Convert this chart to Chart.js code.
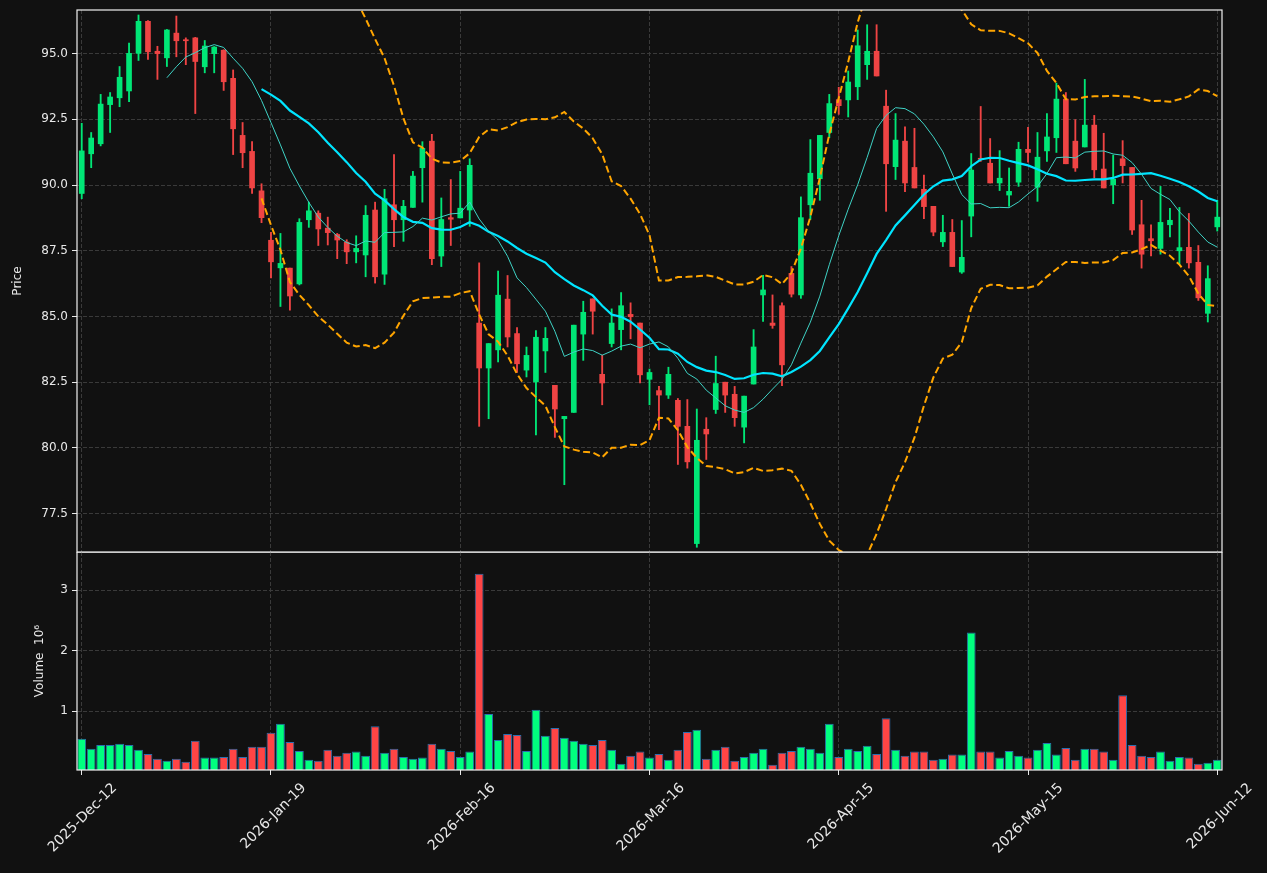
<!DOCTYPE html>
<html>
<head>
<meta charset="utf-8">
<script src="https://cdn.jsdelivr.net/npm/chart.js@4.4.1/dist/chart.umd.min.js"></script>
<style>
  html, body { margin: 0; padding: 0; background: #111111; }
  #wrap { position: relative; width: 1267px; height: 873px; }
  #price { position: absolute; left: 0; top: 0; }
  #vol { position: absolute; left: 0; top: 552px; }
</style>
</head>
<body>
<div id="wrap">
  <canvas id="price" width="1267" height="553"></canvas>
  <canvas id="vol" width="1267" height="321"></canvas>
</div>
<script>
// daily OHLC (121 sessions)
var opens = [89.68,91.19,91.57,93.06,93.32,93.58,95.01,96.23,95.09,94.84,
  95.78,95.53,95.60,94.50,95.00,95.13,94.06,91.89,91.28,89.78,
  87.90,86.85,86.84,86.24,88.68,88.93,88.36,88.12,87.83,87.46,
  87.34,89.05,86.61,89.25,88.68,89.15,90.66,91.67,87.30,88.76,
  88.75,89.05,84.75,83.04,83.73,85.66,84.35,82.96,82.51,83.69,
  82.38,81.11,81.35,84.33,85.67,82.80,83.97,84.50,85.08,84.75,
  82.61,82.18,82.01,81.81,80.82,76.36,80.71,81.46,82.50,82.04,
  80.79,82.43,85.82,84.75,85.41,86.64,85.82,89.25,90.24,92.00,
  93.25,93.24,93.74,94.58,95.09,93.00,90.70,91.67,90.67,89.84,
  89.19,87.84,88.20,86.69,88.82,91.02,90.83,90.08,89.62,90.11,
  91.36,89.92,91.30,91.80,93.27,91.67,91.45,92.28,90.61,90.01,
  91.00,90.67,88.49,87.96,87.59,88.49,87.50,87.63,87.06,85.12,
  88.41];
var highs = [92.35,92.00,93.45,93.52,94.51,95.40,96.47,96.26,95.28,95.92,
  96.43,95.60,95.62,95.50,95.27,95.15,94.38,92.38,91.65,90.05,
  88.20,88.16,86.84,88.72,89.35,89.02,88.78,88.16,87.92,88.07,
  89.22,89.35,89.84,91.16,89.42,90.52,91.65,91.93,89.51,90.21,
  90.52,91.00,87.04,83.97,86.73,86.56,84.58,83.84,84.46,84.58,
  82.38,81.20,84.67,85.58,85.67,83.53,85.29,85.91,85.52,84.75,
  83.00,82.34,83.07,81.88,81.84,81.48,81.15,83.49,82.50,82.34,
  81.97,84.50,86.57,85.82,85.52,86.90,89.55,91.73,91.89,93.45,
  93.72,94.34,95.90,96.10,96.10,93.61,92.72,92.22,92.16,90.38,
  89.19,88.85,88.69,88.65,91.20,92.99,91.77,91.31,90.65,91.63,
  92.20,92.00,92.72,93.88,93.52,92.49,94.02,92.65,91.97,91.14,
  91.69,90.67,89.42,88.49,89.95,89.11,89.15,88.92,87.70,86.93,
  89.42];
var lows = [89.48,90.66,91.49,92.00,92.98,93.17,94.74,94.78,94.02,94.51,
  94.88,94.58,92.72,94.27,94.27,93.60,91.16,90.66,89.68,88.57,
  86.47,85.38,85.24,86.20,88.39,87.70,87.72,87.20,87.01,87.04,
  86.51,86.27,86.22,87.66,87.86,89.15,89.35,86.97,86.90,87.70,
  88.75,88.43,80.82,81.11,83.27,83.84,82.87,82.70,80.49,82.87,
  80.40,78.60,81.35,83.33,84.33,81.64,83.84,83.73,84.15,82.47,
  81.64,80.69,81.88,79.37,79.23,76.22,79.56,81.31,81.35,80.82,
  80.19,82.43,84.81,84.55,82.37,85.74,85.69,88.69,89.42,91.80,
  92.69,92.59,93.25,94.02,94.15,89.00,90.21,89.75,89.89,88.72,
  88.07,87.66,86.90,86.64,88.03,90.90,90.08,89.79,89.19,89.95,
  90.87,89.38,90.90,91.24,90.81,90.52,91.45,90.28,89.89,89.29,
  90.08,88.12,86.84,87.30,87.37,88.03,86.97,86.84,85.61,84.79,
  88.25];
var closes = [91.30,91.79,93.08,93.35,94.10,95.01,96.23,95.07,95.00,95.90,
  95.49,95.49,94.70,95.29,95.25,93.93,92.14,91.23,89.89,88.76,
  87.08,87.02,85.78,88.58,89.02,88.33,88.19,87.91,87.46,87.59,
  88.85,86.51,89.48,88.68,89.19,90.34,91.40,87.20,88.69,88.70,
  89.12,90.75,83.04,83.97,85.81,84.22,83.20,83.52,84.21,84.17,
  81.48,81.20,84.67,85.16,85.20,82.47,84.75,85.41,84.99,82.78,
  82.87,82.01,82.80,80.82,79.47,80.29,80.53,82.45,82.01,81.15,
  81.97,83.84,86.01,84.66,83.16,85.85,88.76,90.45,91.89,93.10,
  93.02,93.92,95.30,95.09,94.15,90.81,91.71,90.08,89.89,89.18,
  88.21,88.20,86.90,87.25,90.57,90.98,90.08,90.26,89.76,91.36,
  91.24,91.06,91.83,93.27,90.81,90.65,92.28,90.58,89.89,90.22,
  90.74,88.29,87.37,87.88,88.58,88.66,87.62,87.04,85.71,86.44,
  88.78];
// volume in millions
var volumes = [0.54,0.375,0.44,0.44,0.46,0.44,0.36,0.29,0.21,0.18,
  0.21,0.16,0.51,0.23,0.23,0.24,0.375,0.24,0.41,0.41,
  0.64,0.79,0.49,0.34,0.195,0.18,0.36,0.26,0.31,0.33,
  0.26,0.75,0.31,0.375,0.24,0.21,0.23,0.46,0.375,0.34,
  0.24,0.33,3.27,0.95,0.52,0.62,0.605,0.34,1.02,0.59,
  0.72,0.56,0.51,0.46,0.44,0.52,0.36,0.13,0.26,0.33,
  0.23,0.29,0.195,0.36,0.655,0.69,0.21,0.36,0.41,0.18,
  0.24,0.31,0.375,0.11,0.31,0.34,0.41,0.375,0.31,0.79,
  0.24,0.375,0.34,0.425,0.29,0.88,0.36,0.26,0.33,0.33,
  0.195,0.21,0.28,0.28,2.30,0.33,0.33,0.23,0.34,0.26,
  0.23,0.36,0.47,0.28,0.39,0.195,0.375,0.375,0.33,0.195,
  1.26,0.44,0.26,0.24,0.33,0.18,0.24,0.23,0.13,0.145,
  0.195];
var tickLabels = ['2025-Dec-12','2026-Jan-19','2026-Feb-16','2026-Mar-16','2026-Apr-15','2026-May-15','2026-Jun-12'];
var tickEvery = 20;

var categories = closes.map(function(_, i){ return i; });

// indicators
function sma(arr, n) {
  return arr.map(function(_, i){
    if (i < n - 1) return null;
    var s = 0;
    for (var j = i - n + 1; j <= i; j++) s += arr[j];
    return s / n;
  });
}
function band(arr, n, k) {
  var m = sma(arr, n);
  return arr.map(function(_, i){
    if (m[i] === null) return null;
    var v = 0;
    for (var j = i - n + 1; j <= i; j++) v += (arr[j] - m[i]) * (arr[j] - m[i]);
    return m[i] + k * Math.sqrt(v / n);
  });
}
var sma10 = sma(closes, 10);
var sma20 = sma(closes, 20);
var bbUp = band(closes, 20, 2);
var bbLow = band(closes, 20, -2);

var up = closes.map(function(c, i){ return c >= opens[i]; });
var candleCol = up.map(function(u){ return u ? '#00e676' : '#ef4444'; });
var volCol = up.map(function(u){ return u ? '#00ff7f' : '#ff4545'; });

var txt = '#e8e8e8';
var gridCol = '#3a3a3a';
var font = { family: 'DejaVu Sans', size: 12 };

var frame = {
  id: 'frame',
  afterDraw: function(chart) {
    var a = chart.chartArea, c = chart.ctx;
    c.save();
    c.strokeStyle = '#f2f2f2';
    c.lineWidth = 1.2;
    c.strokeRect(a.left, a.top, a.right - a.left, a.bottom - a.top);
    c.restore();
  }
};

function xGrid(ctx) { return ctx.index % tickEvery === 0 ? gridCol : 'rgba(0,0,0,0)'; }
function fitY(s) { s.width = 77; s.paddingTop = 0; s.paddingBottom = 0; }

var ctx1 = document.getElementById('price').getContext('2d');
var priceChart = new Chart(ctx1, {
  type: 'bar',
  data: {
    labels: categories,
    datasets: [
      { type: 'line', data: sma10, borderColor: '#3fd3c6', borderWidth: 1, pointRadius: 0, order: 1 },
      { type: 'line', data: sma20, borderColor: '#00e5ff', borderWidth: 2.2, pointRadius: 0, order: 1 },
      { type: 'line', data: bbUp, borderColor: '#ffa500', borderWidth: 2, borderDash: [7, 3.5], pointRadius: 0, order: 1 },
      { type: 'line', data: bbLow, borderColor: '#ffa500', borderWidth: 2, borderDash: [7, 3.5], pointRadius: 0, order: 1 },
      { data: closes.map(function(c, i){ return [Math.min(c, opens[i]), Math.max(c, opens[i])]; }),
        backgroundColor: candleCol, barThickness: 5, minBarLength: 1, grouped: false, order: 2 },
      { data: highs.map(function(h, i){ return [lows[i], h]; }),
        backgroundColor: candleCol, barThickness: 1.2, grouped: false, order: 3 }
    ]
  },
  options: {
    responsive: false,
    animation: false,
    layout: { padding: { top: 10, right: 45, left: 0, bottom: 1 } },
    plugins: { legend: { display: false }, tooltip: { enabled: false } },
    scales: {
      x: {
        offset: true,
        afterFit: function(s){ s.height = 0; s.paddingLeft = 0; s.paddingRight = 0; },
        grid: { offset: false, color: xGrid, drawTicks: false, borderDash: [4, 2] },
        border: { display: false, dash: [4, 2] },
        ticks: { display: false, autoSkip: false }
      },
      y: {
        min: 76.04,
        max: 96.66,
        afterFit: fitY,
        ticks: { stepSize: 2.5, includeBounds: false, color: txt, font: font, padding: 4,
          callback: function(v){ return v.toFixed(1); } },
        grid: { color: gridCol, tickColor: txt, tickLength: 5, tickBorderDash: [], borderDash: [4, 2] },
        border: { display: false, dash: [4, 2] },
        title: { display: true, text: 'Price', color: txt, font: font, padding: { top: 11, bottom: 0 } }
      }
    }
  },
  plugins: [frame]
});

var ctx2 = document.getElementById('vol').getContext('2d');
var volChart = new Chart(ctx2, {
  type: 'bar',
  data: {
    labels: categories,
    datasets: [{
      data: volumes,
      backgroundColor: volCol,
      borderColor: '#2a6fb0',
      borderWidth: 1,
      barPercentage: 0.93,
      categoryPercentage: 1
    }]
  },
  options: {
    responsive: false,
    animation: false,
    layout: { padding: { top: 0, right: 45, left: 0, bottom: 0 } },
    plugins: { legend: { display: false }, tooltip: { enabled: false } },
    scales: {
      x: {
        offset: true,
        afterFit: function(s){ s.height = 103; s.paddingLeft = 0; s.paddingRight = 0; },
        grid: { offset: false, color: xGrid, tickColor: function(ctx){ return ctx.index % tickEvery === 0 ? txt : 'rgba(0,0,0,0)'; },
          tickLength: 5, tickBorderDash: [], borderDash: [4, 2] },
        border: { display: false, dash: [4, 2] },
        ticks: { autoSkip: false, maxRotation: 45, minRotation: 45, color: txt,
          font: { family: 'DejaVu Sans', size: 14 }, padding: 5, labelOffset: 33,
          callback: function(v, i){ return i % tickEvery === 0 ? tickLabels[i / tickEvery] : ''; } }
      },
      y: {
        min: 0.025,
        max: 3.63,
        afterFit: fitY,
        ticks: { stepSize: 1, includeBounds: false, color: txt, font: font, padding: 4 },
        grid: { color: gridCol, tickColor: txt, tickLength: 5, tickBorderDash: [], borderDash: [4, 2] },
        border: { display: false, dash: [4, 2] },
        title: { display: true, text: 'Volume  10\u2076', color: txt, font: font, padding: { top: 33, bottom: 0 } }
      }
    }
  },
  plugins: [frame]
});
</script>
</body>
</html>
